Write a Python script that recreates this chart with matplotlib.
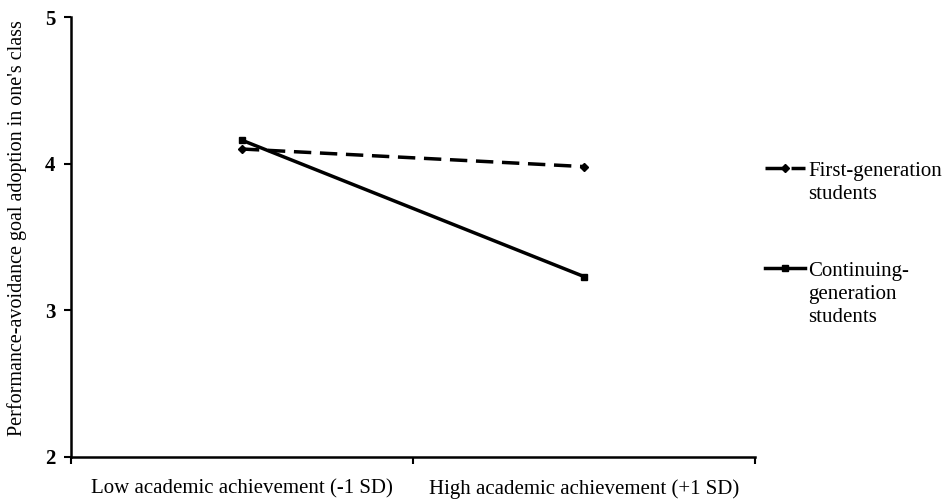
import numpy as np
import matplotlib.pyplot as plt
from matplotlib.lines import Line2D

categories = ["Low academic achievement (-1 SD)", "High academic achievement (+1 SD)"]
first_gen = [4.10, 3.98]
continuing_gen = [4.16, 3.23]
series_labels = ["First-generation\nstudents", "Continuing-\ngeneration\nstudents"]

plt.rcParams['font.family'] = ['Liberation Serif', 'DejaVu Serif']

fig = plt.figure(figsize=(9.44, 5), dpi=100)
ax = fig.add_axes([0.075, 0.086, 0.725, 0.88])

dash = (0, (5, 2.5))
x = np.arange(len(categories))
ax.plot(x, first_gen, color='black', lw=2.5, ls=dash,
        marker='D', markersize=4.5)
ax.plot(x, continuing_gen, color='black', lw=2.5, ls='-',
        marker='s', markersize=5)

ax.set_xlim(-0.5, 1.5)
ax.set_ylim(2, 5)
ax.set_yticks([2, 3, 4, 5])
ax.set_xticks([-0.5, 0.5, 1.5])
ax.set_xticklabels([])
ax.set_xticks(x, minor=True)
ax.set_xticklabels(categories, minor=True)
ax.tick_params(axis='x', which='minor', length=0, pad=16, labelsize=15)
ax.tick_params(axis='x', which='major', length=5, width=1.5, direction='out')
ax.tick_params(axis='y', length=5, width=1.5, direction='out', labelsize=15, pad=6)
for lab in ax.get_yticklabels():
    lab.set_fontweight('bold')

for s in ['top', 'right']:
    ax.spines[s].set_visible(False)
for s in ['left', 'bottom']:
    ax.spines[s].set_linewidth(1.8)

ax.set_ylabel("Performance-avoidance goal adoption in one's class", fontsize=14.5)
ax.yaxis.set_label_coords(-0.064, 0.52)

# legend drawn by hand so the handle sits on the first text line
styles = [dict(ls=dash, marker='D', markersize=4.5), dict(ls='-', marker='s', markersize=5)]
handle_y = [0.664, 0.464]
for lab, st, hy in zip(series_labels, styles, handle_y):
    fig.add_artist(Line2D([0.810, 0.8315, 0.853], [hy, hy, hy], color='black', lw=2.5,
                          markevery=[1], transform=fig.transFigure, **st))
    fig.text(0.856, hy + 0.012, lab, fontsize=15, va='top', ha='left', linespacing=1.3)

fig.savefig('out.png', dpi=100)
